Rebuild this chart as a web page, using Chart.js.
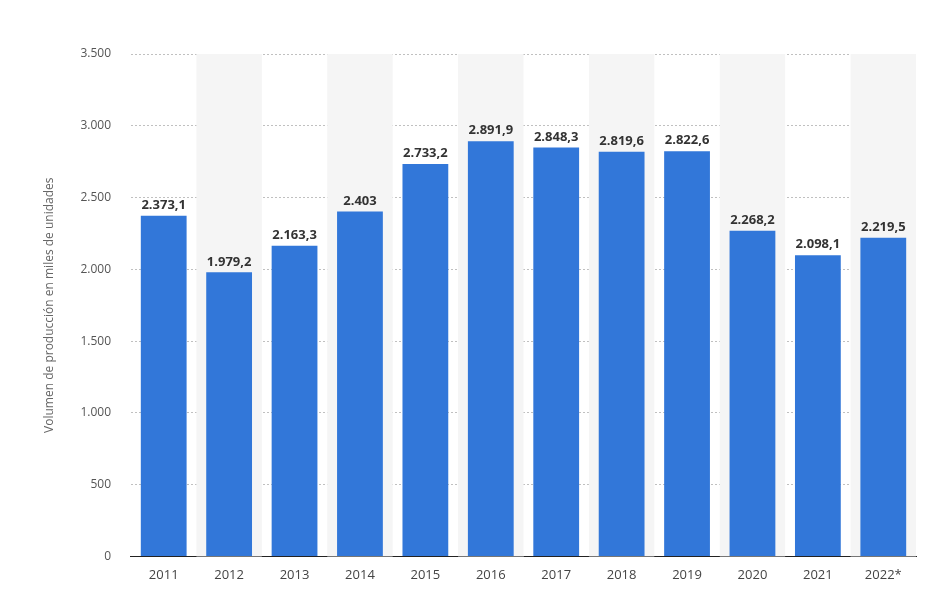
<!DOCTYPE html>
<html><head><meta charset="utf-8">
<script src="https://cdn.jsdelivr.net/npm/chart.js@4"></script>
<style>html,body{margin:0;padding:0;background:#fff}#w{width:940px;height:597px}</style>
</head><body><div id="w"><canvas id="c"></canvas></div>
<script>
const categories=["2011","2012","2013","2014","2015","2016","2017","2018","2019","2020","2021","2022*"];
const values=[2373.1,1979.2,2163.3,2403,2733.2,2891.9,2848.3,2819.6,2822.6,2268.2,2098.1,2219.5];
const yTicks=[0,500,1000,1500,2000,2500,3000,3500];
function fmt(v){const p=v.toFixed(1).split('.');let i=p[0].replace(/\B(?=(\d{3})+(?!\d))/g,'.');return p[1]==='0'?i:i+','+p[1];}
const bands={id:'bands',beforeDatasetsDraw(ch){const {ctx,chartArea:a,scales:{x}}=ch;const w=x.width/categories.length;ctx.save();ctx.fillStyle='#f5f5f5';categories.forEach((c,i)=>{if(i%2===1){ctx.fillRect(x.getPixelForValue(i)-w/2,a.top,w,a.bottom-a.top);}});ctx.restore();}};
const labels={id:'labels',afterDatasetsDraw(ch){const {ctx}=ch;const m=ch.getDatasetMeta(0);ctx.save();ctx.font='bold 13px "Open Sans"';ctx.fillStyle='#333';ctx.textAlign='center';ctx.textBaseline='bottom';m.data.forEach((b,i)=>ctx.fillText(fmt(values[i]),b.x,b.y-4));ctx.restore();}};
new Chart(document.getElementById('c'),{type:'bar',data:{labels:categories,datasets:[{data:values,backgroundColor:'#3277d9',barPercentage:0.7,categoryPercentage:1}]},
options:{responsive:true,maintainAspectRatio:false,animation:false,layout:{padding:{left:38,right:24,top:54,bottom:11}},
plugins:{legend:{display:false},tooltip:{enabled:false}},
scales:{x:{grid:{display:false},border:{color:'#222',width:1},ticks:{color:'#444',font:{family:'Open Sans',size:13}}},
y:{min:0,max:3500,afterBuildTicks(s){s.ticks=yTicks.map(v=>({value:v}));},border:{display:false,dash:[2,2]},grid:{color:'#c0c0c0',drawTicks:false},
ticks:{padding:20,color:'#555',font:{family:'Open Sans',size:12},callback:v=>fmt(v)},
title:{display:true,text:'Volumen de producción en miles de unidades',color:'#666',font:{family:'Open Sans',size:12}}}}},
plugins:[bands,labels]});
</script></body></html>
